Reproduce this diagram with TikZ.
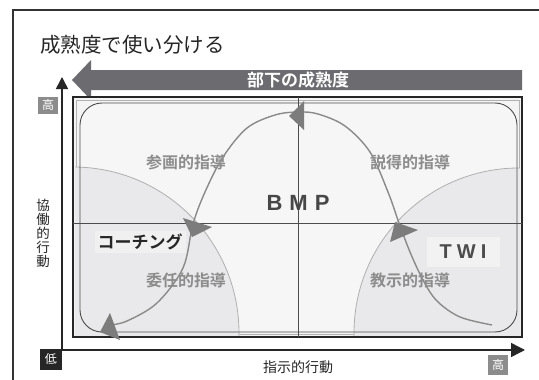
\documentclass[tikz,border=0pt]{standalone}
\usepackage{fontspec}
\setmainfont{Noto Sans CJK JP}[BoldFont={Noto Sans CJK JP Bold}]
\newfontfamily\lat{Liberation Sans}
\usetikzlibrary{arrows.meta}
\definecolor{bandgray}{HTML}{6B6B70}
\definecolor{framebg}{HTML}{F4F4F4}
\definecolor{rrfill}{HTML}{F6F6F6}
\definecolor{qcfill}{HTML}{E9E9EB}
\definecolor{qcline}{HTML}{B0B0B0}
\definecolor{curvecol}{HTML}{8A8A8A}
\definecolor{lblgray}{HTML}{8C8C8C}
\definecolor{dark}{HTML}{262626}
\tikzset{
  lbl/.style={font=\bfseries\fontsize{16}{16}\selectfont, text=lblgray, inner sep=0pt},
  tagbox/.style={text=white, font=\fontsize{12}{12}\selectfont, inner sep=0pt},
  axisline/.style={line width=1.5pt, draw=dark},
  gridline/.style={line width=0.8pt, draw=black!70},
  headtri/.style={fill=curvecol!90!black}
}
\begin{document}
\begin{tikzpicture}[x=1pt,y=-1pt]
\useasboundingbox (0,0) rectangle (539,380);
\fill[white] (0,0) rectangle (539,380);
% outer frame (cut by picture edges)
\draw[line width=1.3pt, draw=black!80] (13,380) -- (13,10) -- (539,10);
% title
\node[anchor=west, inner sep=0pt, font=\fontsize{20.5}{22}\selectfont, text=dark] (title) at (40,45) {成熟度で使い分ける};
% big maturity arrow
\fill[bandgray] (72,80) -- (91,60) -- (91,70) -- (522,70) -- (522,90) -- (91,90) -- (91,100) -- cycle;
\node[font=\bfseries\fontsize{17}{17}\selectfont, text=white, inner sep=0pt] (mat) at (298,80) {部下の成熟度};
% main frame
\filldraw[fill=framebg, draw=black!85, line width=1.2pt] (73,97) rectangle (522,337);
\draw[gray!60, line width=0.6pt] (76,100) rectangle (519,334);
\fill[rrfill, rounded corners=22pt] (80,103) rectangle (517,332);
% quarter circles
\begin{scope}
  \clip (75,99) rectangle (520,335);
  \filldraw[fill=qcfill, draw=qcline, line width=0.8pt] (73,333) circle[radius=166pt];
  \filldraw[fill=qcfill, draw=qcline, line width=0.8pt] (519,333) circle[radius=165pt];
\end{scope}
\draw[black!70, line width=0.9pt, rounded corners=22pt] (80,103) rectangle (517,332);
% cross lines
\draw[gridline] (298,97) -- (298,337);
\draw[gridline] (73,223) -- (522,223);
% text boxes
\node[fill=black!6, font=\bfseries\fontsize{17}{17}\selectfont, text=dark, inner sep=3pt] (coach) at (140,242) {コーチング};
\node[fill=black!5, minimum width=73pt, minimum height=30pt, inner sep=0pt, font=\lat\bfseries\fontsize{20}{20}\selectfont, text=black!70] (twi) at (463,252) {T\kern5pt W\kern5pt I};
% S curve
\draw[curvecol, line width=1.4pt] plot[smooth, tension=0.55] coordinates {
  (492,325) (460,317) (437,301) (423,280) (410,252) (399,223) (388,192) (370,152) (345,126) (318,114) (298,112)
  (275,115) (247,128) (223,157) (205,192) (193,224) (183,268) (157,303) (127,321) (110,325)};
% arrowheads
\fill[headtri] (395,222) -- (418,230) -- (390,242) -- cycle;
\fill[headtri] (289,116) -- (304,101) -- (304,130) -- cycle;
\fill[headtri] (183,218) -- (212,227) -- (192,237) -- cycle;
\fill[headtri] (110,313) -- (120,340) -- (100,332) -- cycle;
% quadrant labels
\node[lbl] (q1) at (186,162) {参画的指導};
\node[lbl] (q2) at (410,162) {説得的指導};
\node[lbl] (q3) at (186,280) {委任的指導};
\node[lbl] (q4) at (410,280) {教示的指導};
\node[font=\lat\bfseries\fontsize{22}{22}\selectfont, text=black!72, inner sep=0pt] (bmp) at (298,203) {B\kern7pt M\kern7pt P};
% axes
\coordinate (o) at (62,350);
\coordinate (ytip) at (62,77);
\coordinate (xtip) at (525,350);
\draw[axisline, -{Triangle[length=12pt,width=12pt]}] (o) -- (ytip);
\draw[axisline, -{Triangle[length=14pt,width=14pt]}] (o) -- (xtip);
\node[tagbox, fill=lblgray, minimum width=20pt, minimum height=17pt] (yhi) at (48,105) {高};
\node[tagbox, fill=dark, minimum width=22pt, minimum height=21pt] (lo) at (51,359) {低};
\node[tagbox, fill=lblgray, minimum width=20pt, minimum height=20pt] (xhi) at (498,365) {高};
\node[font=\fontsize{14}{14}\selectfont, text=dark, inner sep=0pt] (xlab) at (298,367) {指示的行動};
\node[font=\fontsize{13.5}{14}\selectfont, text=dark, inner sep=0pt, align=center] (ylab) at (43,233) {協\\働\\的\\行\\動};
\end{tikzpicture}
\end{document}
